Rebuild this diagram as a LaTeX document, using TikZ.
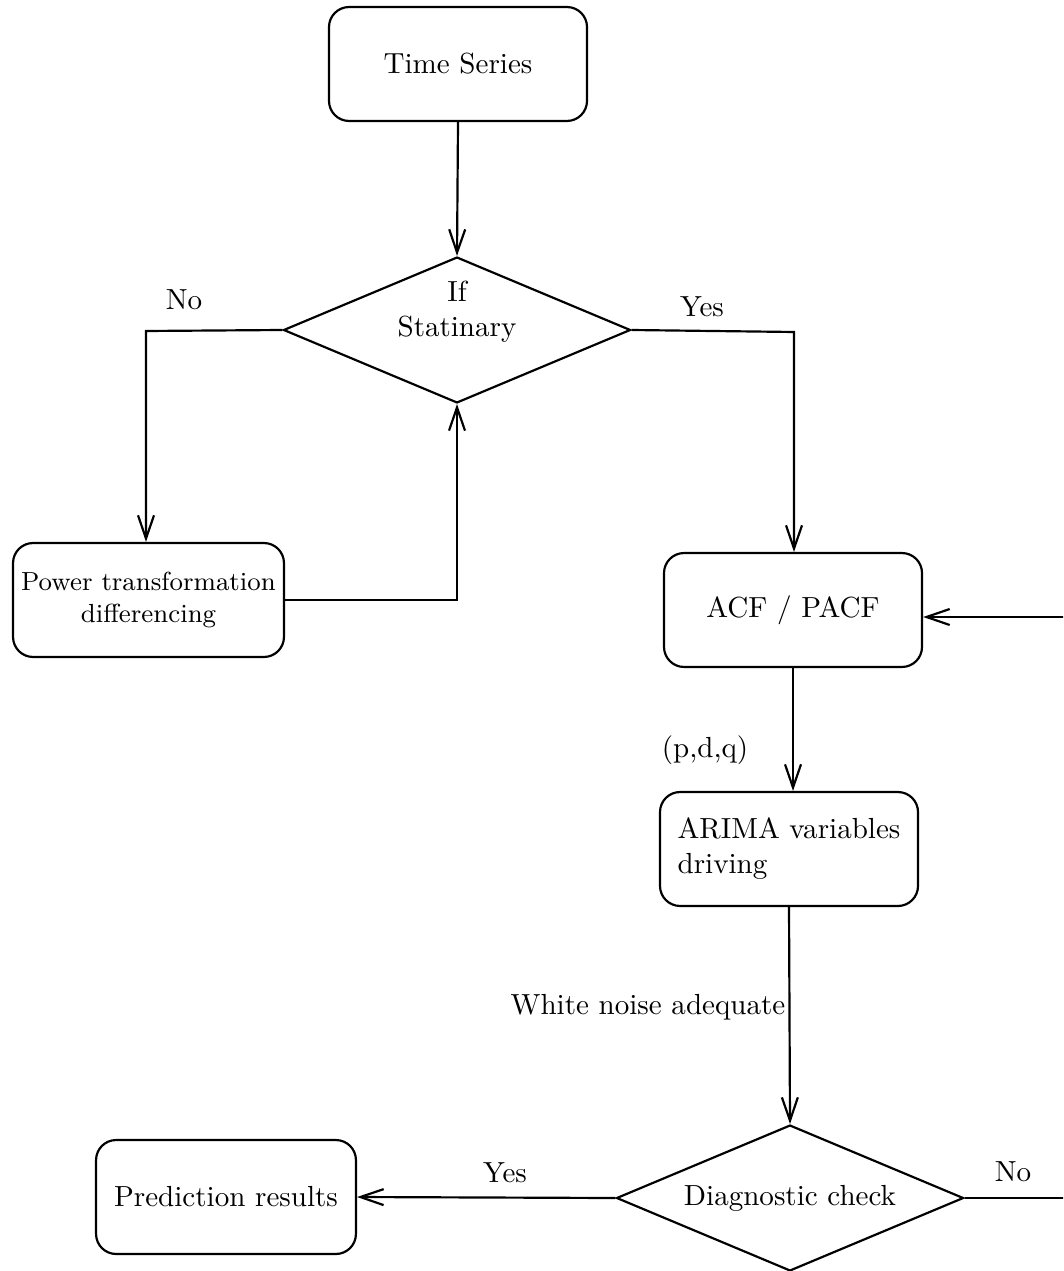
\documentclass[tikz,border=0pt]{standalone}
\usetikzlibrary{shapes.geometric,arrows.meta}
\tikzset{
  box/.style={draw, rounded corners=6.9pt, minimum width=88.75pt, minimum height=39.2pt, inner sep=2pt, align=center},
  dec/.style={draw, diamond, aspect=2.38, minimum width=119.4pt, minimum height=50.2pt, inner sep=0pt},
  conn/.style={line width=0.75pt},
  arr/.style={conn, -{Straight Barb[length=8pt,width=5.5pt,line width=0.75pt]}},
  lbl/.style={inner sep=0pt}
}
\begin{document}
\begin{tikzpicture}[x=0.344pt, y=-0.344pt, line width=0.75pt]
\path[use as bounding box] (0,0) rectangle (1063,1271);
\clip (0,0) rectangle (1063,1271);

\node[box] (ts) at (458,64) {Time Series};
\node[dec] (d1) at (457,330) {};
\node[lbl, align=center] (d1t) at (457,312) {If\\Statinary};
\node[box, minimum width=93.2pt, font=\small] (pw) at (148.5,600) {Power transformation\\differencing};
\node[box] (acf) at (793,610) {ACF / PACF};
\node[box, align=left] (arima) at (789,849) {ARIMA variables\\driving};
\node[dec] (d2) at (790,1198) {Diagnostic check};
\node[box, minimum width=89.4pt] (pred) at (226,1197) {Prediction results};

\coordinate (c1) at (146,331);
\coordinate (c2) at (794,332);
\coordinate (c3) at (1120,1198);
\coordinate (c4) at (1120,617);

\draw[arr] (ts.south) -- (d1.north);
\draw[arr] (d1.west) -- (c1) -- (c1 |- pw.north);
\draw[arr] (pw.east) -| (d1.south);
\draw[arr] (d1.east) -- (c2) -- (c2 |- acf.north);
\draw[arr] (acf.south) -- (acf.south |- arima.north);
\draw[arr] (arima.south) -- (d2.north);
\draw[arr] (d2.west) -- (pred.east);
\draw[arr] (d2.east) -- (c3) -- (c4) -- (acf.east |- c4);

\node[lbl] (lno1) at (184,300) {No};
\node[lbl] (lyes1) at (702,307) {Yes};
\node[lbl] (lpdq) at (705,750) {(p,d,q)};
\node[lbl] (lwn) at (648,1007) {White noise adequate};
\node[lbl] (lyes2) at (505,1173) {Yes};
\node[lbl] (lno2) at (1013,1172) {No};
\end{tikzpicture}
\end{document}
